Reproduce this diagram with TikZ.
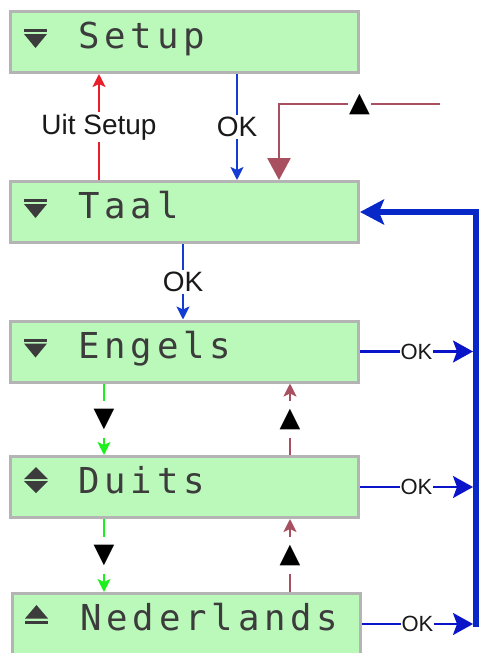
\documentclass[tikz,border=0pt]{standalone}
\usepackage{fontspec}
\setmainfont{Liberation Sans}
\newfontfamily\lcdfont[LetterSpace=13.5]{DejaVu Sans Mono}
\newfontfamily\symfont{DejaVu Sans}
\usetikzlibrary{arrows.meta,calc}
\definecolor{boxfill}{RGB}{187,249,187}
\definecolor{boxedge}{RGB}{180,180,180}
\definecolor{lcdink}{RGB}{60,60,60}
\definecolor{cred}{RGB}{232,30,42}
\definecolor{cblue}{RGB}{20,60,210}
\definecolor{cdblue}{RGB}{10,20,200}
\definecolor{cbig}{RGB}{8,40,200}
\definecolor{cmaroon}{RGB}{168,80,96}
\definecolor{cgreen}{RGB}{30,240,30}
\tikzset{
  lcdbox/.style={draw=boxedge, fill=boxfill, line width=3pt, minimum width=348pt, minimum height=61pt, inner sep=0pt},
  lcdtext/.style={font=\lcdfont\fontsize{35.7}{40}\selectfont, text=lcdink, inner sep=0pt, anchor=base west},
  icon/.style={fill=lcdink},
  lbl/.style={font=\fontsize{28}{30}\selectfont, text=black!90, fill=white, inner sep=2pt},
  smlbl/.style={font=\fontsize{22}{24}\selectfont, text=black!90, fill=white, inner sep=1pt},
  tri/.style={font=\symfont\fontsize{27}{28}\selectfont, text=black, fill=white, inner xsep=3pt, inner ysep=8pt},
  smallhead/.style={-{Stealth[length=13pt,width=13pt,inset=3pt]}},
  thinred/.style={draw=cred, line width=2pt, smallhead},
  thinblue/.style={draw=cblue, line width=2pt, smallhead},
  thingreen/.style={draw=cgreen, line width=2pt, smallhead},
  thinmaroon/.style={draw=cmaroon, line width=2pt, smallhead},
  rightblue/.style={draw=cdblue, line width=2.2pt, -{Stealth[length=20pt,width=22pt,inset=4pt]}},
  bigblue/.style={draw=cbig, line width=5.5pt, line join=miter, -{Stealth[length=24pt,width=25pt,inset=5pt]}},
  maroonpath/.style={draw=cmaroon, line width=2.6pt, line join=miter, -{Triangle[length=22pt,width=23pt]}},
}
\begin{document}
\begin{tikzpicture}[x=1pt,y=-1pt]
\clip (0,0) rectangle (480,653);
\fill[white] (0,0) rectangle (480,653);

% boxes
\node[lcdbox] (setup)  at (184.5,42)    {};
\node[lcdbox] (taal)   at (184.5,212)   {};
\node[lcdbox] (engels) at (184.5,351.5) {};
\node[lcdbox] (duits)  at (184.5,487)   {};
\node[lcdbox] (ned)    at (186.5,624)   {};

% texts
\node[lcdtext] (tsetup)  at (78,48)  {Setup};
\node[lcdtext] (ttaal)   at (78,218) {Taal};
\node[lcdtext] (tengels) at (78,358) {Engels};
\node[lcdtext] (tduits)  at (78,493) {Duits};
\node[lcdtext] (tned)    at (80,630) {Nederlands};

% icons
\fill[icon] (24,29) rectangle (47,32);
\fill[icon] (24,34) -- (47,34) -- (35.5,48) -- cycle;
\fill[icon] (24,199) rectangle (47,202);
\fill[icon] (24,204) -- (47,204) -- (35.5,218) -- cycle;
\fill[icon] (24,338.5) rectangle (47,341.5);
\fill[icon] (24,343.5) -- (47,343.5) -- (35.5,357.5) -- cycle;
\fill[icon] (24,479) -- (48,479) -- (36,467) -- cycle;
\fill[icon] (24,481) -- (48,481) -- (36,493) -- cycle;
\fill[icon] (25,618.5) -- (48,618.5) -- (36.5,605) -- cycle;
\fill[icon] (25,621) rectangle (48,624);

% x positions
\coordinate (xr) at (99,0);
\coordinate (xb) at (237,0);
\coordinate (xt) at (183,0);
\coordinate (xg) at (104,0);
\coordinate (xm) at (290,0);
\coordinate (vl) at (473,0);

% Setup <-> Taal
\draw[thinred] (taal.north -| xr) -- node[lbl] (luit) {Uit Setup} (setup.south -| xr);
\draw[thinblue] (setup.south -| xb) -- node[lbl] (lok1) {OK} (taal.north -| xb);

% maroon return path
\coordinate (mstart) at (440,104);
\coordinate (mcorner) at (279,104);
\draw[maroonpath] (mstart) -- node[tri, inner sep=1.5pt] (lup0) {▲} (mcorner) -- (taal.north -| mcorner);

% Taal -> Engels
\draw[thinblue] (taal.south -| xt) -- node[lbl] (lok2) {OK} (engels.north -| xt);

% Engels <-> Duits
\draw[thingreen] (engels.south -| xg) -- node[tri] (ldn1) {▼} (duits.north -| xg);
\draw[thinmaroon] (duits.north -| xm) -- node[tri] (lup1) {▲} (engels.south -| xm);

% Duits <-> Nederlands
\draw[thingreen] (duits.south -| xg) -- node[tri] (ldn2) {▼} (ned.north -| xg);
\draw[thinmaroon] (ned.north -| xm) -- node[tri] (lup2) {▲} (duits.south -| xm);

% right OK arrows
\draw[rightblue] (engels.east) -- node[smlbl] (rok1) {OK} (engels.east -| vl);
\draw[rightblue] (duits.east) -- node[smlbl] (rok2) {OK} (duits.east -| vl);
\draw[rightblue] (ned.east) -- node[smlbl] (rok3) {OK} (ned.east -| vl);

% big return line
\coordinate (vb) at (476,626.5);
\coordinate (vt) at (476,212);
\draw[bigblue] (vb) -- (vt) -- (taal.east);
\end{tikzpicture}
\end{document}
